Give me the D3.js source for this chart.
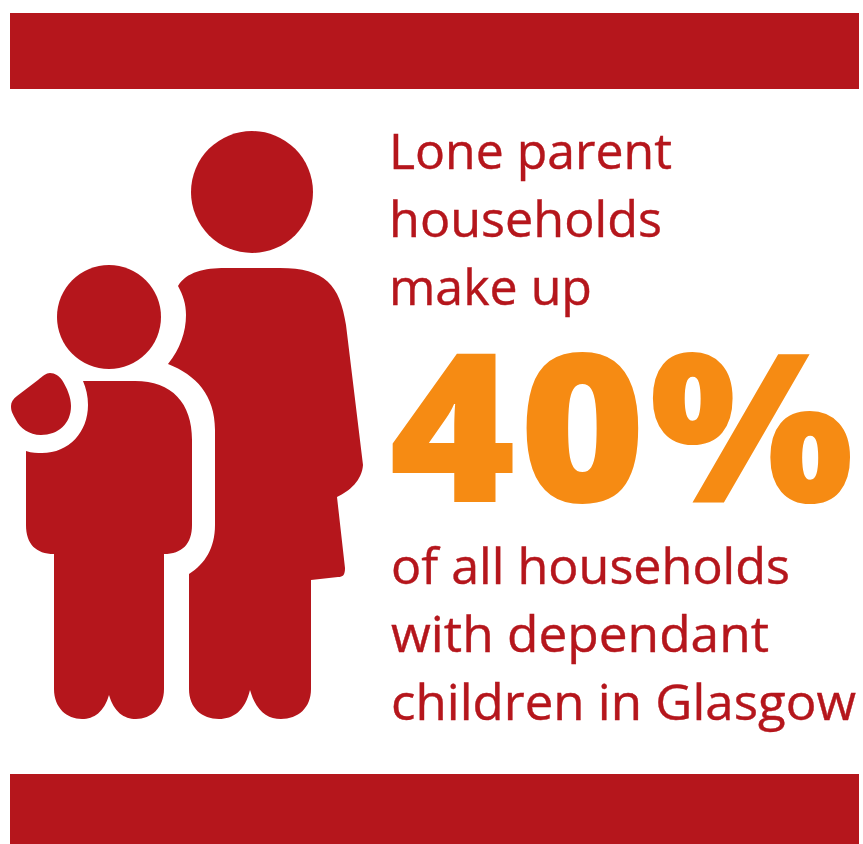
<!DOCTYPE html>
<html>
<head>
<meta charset="utf-8">
<script src="https://cdn.jsdelivr.net/npm/d3@7"></script>
<style>
  html, body { margin: 0; padding: 0; background: #fff; }
  svg { display: block; }
  text { font-family: "Open Sans", sans-serif; }
</style>
</head>
<body>
<svg id="viz" width="863" height="844"></svg>
<script>
// Text content
const topLines = ["Lone parent", "households", "make up"];
const shareLabel = "40%";
const bottomLines = ["of all households", "with dependant", "children in Glasgow"];

// Measured line widths, set apart from the text
const topWidths = [283, 273, 203];
const bottomWidths = [399, 378, 465];
const glyphStarts = [389, 519, 649];
const glyphStretch = 1.04;

const red = "#b5161c";
const orange = "#f68b13";
const svg = d3.select("#viz");

// Bars top and bottom
svg.append("rect").attr("x", 10).attr("y", 13).attr("width", 849).attr("height", 76).attr("fill", red);
svg.append("rect").attr("x", 10).attr("y", 774).attr("width", 849).attr("height", 70).attr("fill", red);

// Icon: adult and child
const icon = svg.append("g").attr("fill", red);
icon.append("circle").attr("cx", 252).attr("cy", 192).attr("r", 61);
icon.append("path").attr("d", "M178 286C186 272 205 268 225 268L280 268C325 268 340 285 346 325L363 465C362 480 350 491 337 497L345 568C345 575 343 577 338 577L311 580L311 689C311 708 298 719 281 719C267 719 256 711 250 690C245 711 233 719 219 719C202 719 189 708 189 689L189 574C205 564 215 548 215 525L215 430C215 395 196 375 168 364C180 349 186 332 186 315C186 304 183 295 178 286Z");
icon.append("circle").attr("cx", 109).attr("cy", 317).attr("r", 52);
icon.append("path").attr("d", "M83 381L135 381C172 381 192 403 192 440L192 525C192 544 182 554 164 554L164 689C164 708 151 719 136 719C124 719 114 712 109 695C104 712 94 719 82 719C67 719 54 708 54 689L54 554C36 554 26 544 26 525L26 451C32 453 37 453 42 453C69 453 88 432 88 405C88 396 86 388 83 381Z");
icon.append("path").attr("d", "M50 373C55 373 59 376 62 380C67 388 71 397 71 406C71 424 58 435 41 435C29 435 20 428 16 420C13 414 11 412 11 406C11 402 13 399 17 396L38 380C43 376 46 373 50 373Z");

// Top sentence
svg.append("g").selectAll("text").data(topLines).enter().append("text")
  .attr("x", 389)
  .attr("y", (d, i) => 169 + i * 68)
  .attr("font-size", 50)
  .attr("fill", red)
  .attr("stroke", red)
  .attr("stroke-width", 0.4)
  .attr("textLength", (d, i) => topWidths[i])
  .attr("lengthAdjust", "spacingAndGlyphs")
  .text(d => d);

// Big number, stretched a little and placed glyph by glyph
svg.append("text")
  .attr("transform", `scale(${glyphStretch},1)`)
  .attr("x", glyphStarts.map(v => v / glyphStretch).join(" "))
  .attr("y", 502)
  .attr("font-size", 208)
  .attr("font-weight", 800)
  .attr("fill", orange)
  .text(shareLabel);

// Bottom sentence
svg.append("g").selectAll("text").data(bottomLines).enter().append("text")
  .attr("x", 391)
  .attr("y", (d, i) => 584 + i * 68)
  .attr("font-size", 50)
  .attr("fill", red)
  .attr("stroke", red)
  .attr("stroke-width", 0.4)
  .attr("textLength", (d, i) => bottomWidths[i])
  .attr("lengthAdjust", "spacingAndGlyphs")
  .text(d => d);
</script>
</body>
</html>
